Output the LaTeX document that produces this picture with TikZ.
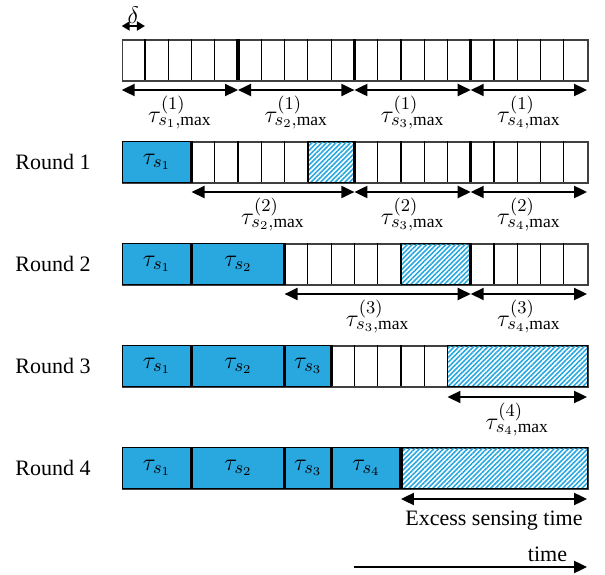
\documentclass[tikz,border=0pt]{standalone}
\usepackage{fontspec}
\setmainfont{Liberation Serif}
\usepackage{tikz}
\usetikzlibrary{arrows.meta,patterns.meta,positioning}
\usepackage{xcolor}
\definecolor{sensblue}{HTML}{29A8E0}
\definecolor{edge}{HTML}{404040}
% thin cell lines and thick sensor borders of one row
\newcommand{\cells}[2]{
  \foreach \i in {#2} \draw[line width=.6pt, black] (\i, #1) -- (\i, #1+41);
}
\newcommand{\seps}[2]{
  \foreach \i in {#2} \draw[line width=1.6pt, black] (\i, #1) -- (\i, #1+41);
}

\begin{document}
\begin{tikzpicture}[x=11.635pt, y=-0.5pt,
  rowbox/.style={
    rectangle,
    draw=edge,
    thick,
    minimum width=232.7pt,
    minimum height=20.5pt,
    inner sep=0pt,
    anchor=north west
  },
  sensor/.style={
    rectangle,
    draw=black,
    fill=sensblue,
    minimum width=#1*11.635pt,
    minimum height=20.5pt,
    inner sep=0pt,
    anchor=north west,
    font=\fontsize{13}{15}\selectfont
  },
  excess/.style={
    rectangle,
    draw=black,
    pattern={Lines[angle=45, distance=1.7pt, line width=.8pt]},
    pattern color=sensblue,
    minimum width=#1*11.635pt,
    minimum height=20.5pt,
    inner sep=0pt,
    anchor=north west
  },
  dimarrow/.style={
    line width=1pt,
    {Triangle[length=6.5pt, width=6pt]}-{Triangle[length=6.5pt, width=6pt]}
  },
  dimlabel/.style={
    anchor=north,
    yshift=-2.5pt,
    inner sep=0pt,
    font=\fontsize{12.5}{15}\selectfont
  },
  roundlabel/.style={font=\fontsize{11}{13}\selectfont}
  ]
  \useasboundingbox (-5.23,0) rectangle (20.77,575);

  % slot grid
  \begin{scope}
    \node[rowbox] (row0) at (0,39) {};
    \cells{39}{1,2,3,4,6,7,8,9,11,12,13,14,16,17,18,19}
    \seps{39}{5,10,15}

    \coordinate (d-l) at (0,26);
    \coordinate (d-r) at (1,26);
    \draw[line width=1pt, {Triangle[length=4pt, width=4.5pt]}-{Triangle[length=4pt, width=4.5pt]}] (d-l) -- node[anchor=south, inner sep=0pt, yshift=1pt, font=\fontsize{12}{14}\selectfont] (delta) {$\delta$} (d-r);

    \foreach \k in {0,5,10,15,20} \coordinate (a0-\k) at (\k,90);
    \draw[dimarrow] (a0-0) -- node[dimlabel] (l0-1) {$\tau^{(1)}_{s_1,\mathrm{max}}$} (a0-5);
    \draw[dimarrow] (a0-5) -- node[dimlabel] (l0-2) {$\tau^{(1)}_{s_2,\mathrm{max}}$} (a0-10);
    \draw[dimarrow] (a0-10) -- node[dimlabel] (l0-3) {$\tau^{(1)}_{s_3,\mathrm{max}}$} (a0-15);
    \draw[dimarrow] (a0-15) -- node[dimlabel] (l0-4) {$\tau^{(1)}_{s_4,\mathrm{max}}$} (a0-20);
  \end{scope}

  % round 1
  \begin{scope}
    \node[rowbox] (row1) at (0,141) {};
    \node[sensor=3] (r1-s1) at (0,141) {$\tau_{s_1}$};
    \node[excess=2] (r1-x) at (8,141) {};
    \cells{141}{4,5,6,7,8,11,12,13,14,16,17,18,19}
    \seps{141}{3,10,15}
    \node[roundlabel, left=12pt of row1] (r1-lbl) {Round 1};

    \foreach \k in {3,10,15,20} \coordinate (a1-\k) at (\k,192);
    \draw[dimarrow] (a1-3) -- node[dimlabel] (l1-2) {$\tau^{(2)}_{s_2,\mathrm{max}}$} (a1-10);
    \draw[dimarrow] (a1-10) -- node[dimlabel] (l1-3) {$\tau^{(2)}_{s_3,\mathrm{max}}$} (a1-15);
    \draw[dimarrow] (a1-15) -- node[dimlabel] (l1-4) {$\tau^{(2)}_{s_4,\mathrm{max}}$} (a1-20);
  \end{scope}

  % round 2
  \begin{scope}
    \node[rowbox] (row2) at (0,243) {};
    \node[sensor=3] (r2-s1) at (0,243) {$\tau_{s_1}$};
    \node[sensor=4] (r2-s2) at (3,243) {$\tau_{s_2}$};
    \node[excess=3] (r2-x) at (12,243) {};
    \cells{243}{8,9,10,11,12,16,17,18,19}
    \seps{243}{3,7,15}
    \node[roundlabel, left=12pt of row2] (r2-lbl) {Round 2};

    \foreach \k in {7,15,20} \coordinate (a2-\k) at (\k,294);
    \draw[dimarrow] (a2-7) -- node[dimlabel] (l2-3) {$\tau^{(3)}_{s_3,\mathrm{max}}$} (a2-15);
    \draw[dimarrow] (a2-15) -- node[dimlabel] (l2-4) {$\tau^{(3)}_{s_4,\mathrm{max}}$} (a2-20);
  \end{scope}

  % round 3
  \begin{scope}
    \node[rowbox] (row3) at (0,345) {};
    \node[sensor=3] (r3-s1) at (0,345) {$\tau_{s_1}$};
    \node[sensor=4] (r3-s2) at (3,345) {$\tau_{s_2}$};
    \node[sensor=2] (r3-s3) at (7,345) {$\tau_{s_3}$};
    \node[excess=6] (r3-x) at (14,345) {};
    \cells{345}{10,11,12,13,14}
    \seps{345}{3,7,9}
    \node[roundlabel, left=12pt of row3] (r3-lbl) {Round 3};

    \coordinate (a3-14) at (14,397);
    \coordinate (a3-20) at (20,397);
    \draw[dimarrow] (a3-14) -- node[dimlabel] (l3-4) {$\tau^{(4)}_{s_4,\mathrm{max}}$} (a3-20);
  \end{scope}

  % round 4
  \begin{scope}
    \node[rowbox] (row4) at (0,447) {};
    \node[sensor=3] (r4-s1) at (0,447) {$\tau_{s_1}$};
    \node[sensor=4] (r4-s2) at (3,447) {$\tau_{s_2}$};
    \node[sensor=2] (r4-s3) at (7,447) {$\tau_{s_3}$};
    \node[sensor=3] (r4-s4) at (9,447) {$\tau_{s_4}$};
    \node[excess=8] (r4-x) at (12,447) {};
    \seps{447}{3,7,9,12}
    \node[roundlabel, left=12pt of row4] (r4-lbl) {Round 4};

    \coordinate (a4-12) at (12,499);
    \coordinate (a4-20) at (20,499);
    \draw[dimarrow] (a4-12) -- node[roundlabel, anchor=base, yshift=-13.5pt] (excess-lbl) {Excess sensing time} (a4-20);
  \end{scope}

  % time axis
  \coordinate (t-l) at (10,567);
  \coordinate (t-r) at (20,567);
  \draw[line width=1pt, -{Triangle[length=6.5pt, width=6pt]}] (t-l) -- node[pos=.83, roundlabel, anchor=base, yshift=2.5pt] (time-lbl) {time} (t-r);

\end{tikzpicture}
\end{document}
